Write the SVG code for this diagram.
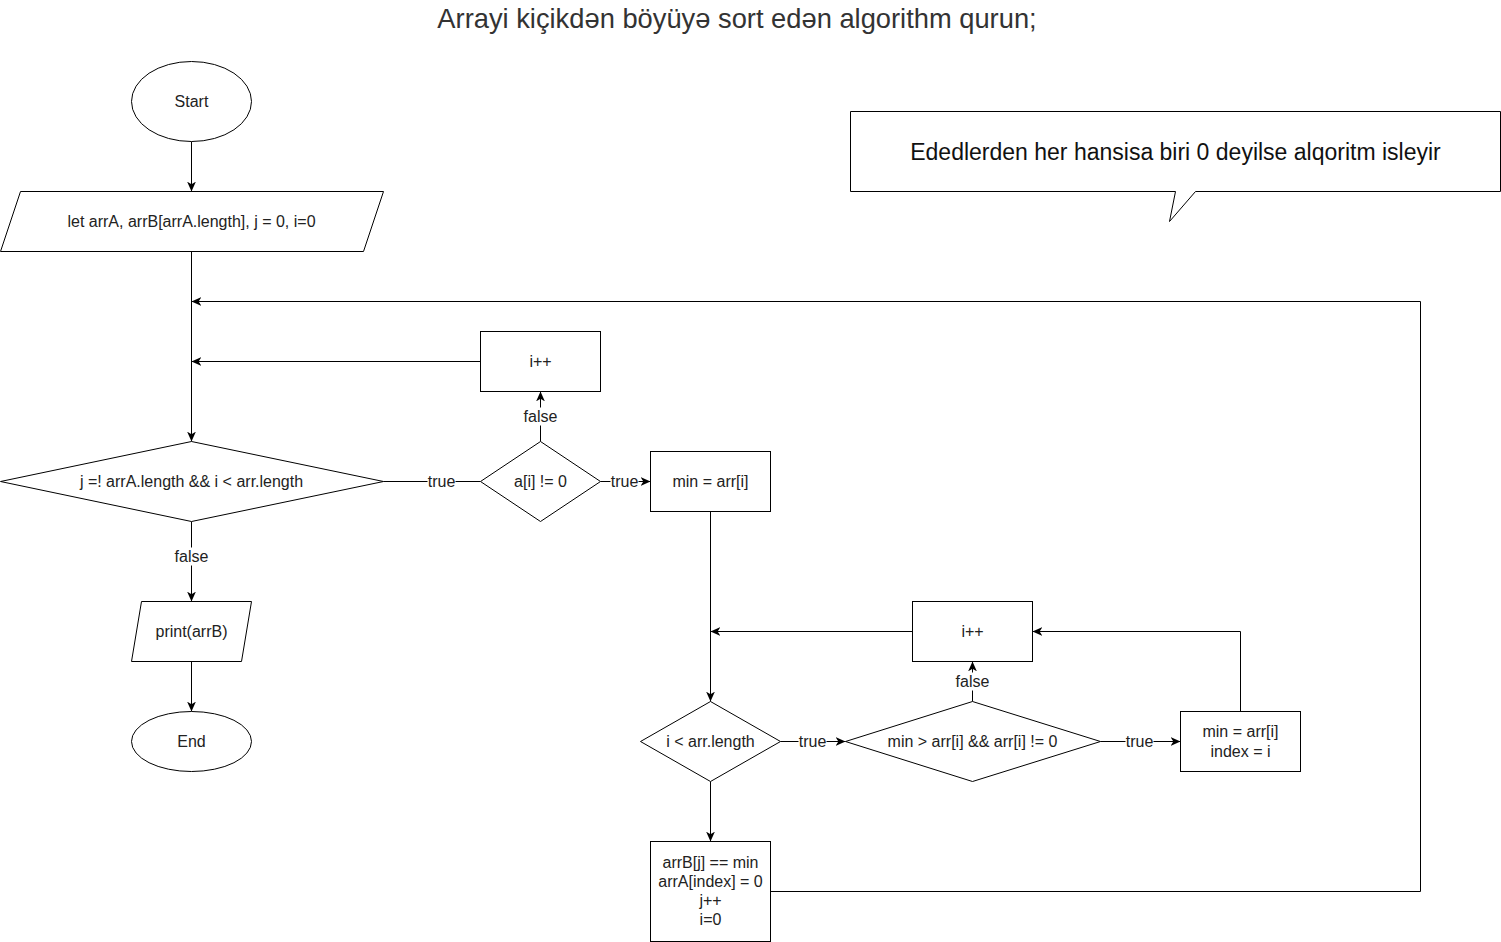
<svg xmlns="http://www.w3.org/2000/svg" width="1501" height="942" viewBox="0 0 1501 942">
<style>
.s{fill:#fff;stroke:#000;stroke-width:1}
.t{font-family:"Liberation Sans",Arial,sans-serif;font-size:16px;fill:#222;text-anchor:middle;dominant-baseline:central}
.e{fill:none;stroke:#000;stroke-width:1}
.lb{fill:#fff}
</style>
<defs>
<marker id="a" markerUnits="userSpaceOnUse" markerWidth="11" markerHeight="11" viewBox="0 0 10 10" refX="9" refY="5" orient="auto">
<path d="M0,1 L9,5 L0,9 L2.5,5 Z" fill="#000"/>
</marker>
</defs>
<rect width="1501" height="942" fill="#fff"/>
<text x="737" y="18" class="t" style="font-size:27.3px;fill:#333">Arrayi kiçikdən böyüyə sort edən algorithm qurun;</text>
<g transform="translate(0.5,0.5)">
<g id="connectors">
<path class="e" d="M191,141 L191,191" marker-end="url(#a)"/>
<path class="e" d="M191,251 L191,441" marker-end="url(#a)"/>
<path class="e" d="M770,891 L1420,891 L1420,301 L191,301" marker-end="url(#a)"/>
<path class="e" d="M480,361 L191,361" marker-end="url(#a)"/>
<path class="e" d="M383,481 L480,481"/>
<path class="e" d="M540,441 L540,391" marker-end="url(#a)"/>
<path class="e" d="M600,481 L650,481" marker-end="url(#a)"/>
<path class="e" d="M710,511 L710,701" marker-end="url(#a)"/>
<path class="e" d="M912,631 L710,631" marker-end="url(#a)"/>
<path class="e" d="M191,521 L191,601" marker-end="url(#a)"/>
<path class="e" d="M191,661 L191,711" marker-end="url(#a)"/>
<path class="e" d="M780,741 L845,741" marker-end="url(#a)"/>
<path class="e" d="M972,701 L972,661" marker-end="url(#a)"/>
<path class="e" d="M1100,741 L1180,741" marker-end="url(#a)"/>
<path class="e" d="M1240,711 L1240,631 L1032,631" marker-end="url(#a)"/>
<path class="e" d="M710,781 L710,841" marker-end="url(#a)"/>
<rect class="lb" x="427" y="472" width="28" height="18"/><text class="t" x="441" y="481">true</text>
<rect class="lb" x="523" y="407" width="34" height="18"/><text class="t" x="540" y="416">false</text>
<rect class="lb" x="610" y="472" width="28" height="18"/><text class="t" x="624" y="481">true</text>
<rect class="lb" x="174" y="547" width="34" height="18"/><text class="t" x="191" y="556">false</text>
<rect class="lb" x="798" y="732" width="28" height="18"/><text class="t" x="812" y="741">true</text>
<rect class="lb" x="955" y="672" width="34" height="18"/><text class="t" x="972" y="681">false</text>
<rect class="lb" x="1125" y="732" width="28" height="18"/><text class="t" x="1139" y="741">true</text>
</g>
<g id="start"><ellipse class="s" cx="191" cy="101" rx="60" ry="40"/><text class="t" x="191" y="101">Start</text></g>
<g id="input"><polygon class="s" points="20,191 383,191 363,251 0,251"/><text class="t" x="191" y="221">let arrA, arrB[arrA.length], j = 0, i=0</text></g>
<g id="cond-main"><polygon class="s" points="0,481 191,441 383,481 191,521"/><text class="t" x="191" y="481">j =! arrA.length &amp;&amp; i &lt; arr.length</text></g>
<g id="print"><polygon class="s" points="141,601 251,601 241,661 131,661"/><text class="t" x="191" y="631">print(arrB)</text></g>
<g id="end"><ellipse class="s" cx="191" cy="741" rx="60" ry="30"/><text class="t" x="191" y="741">End</text></g>
<g id="inc1"><rect class="s" x="480" y="331" width="120" height="60"/><text class="t" x="540" y="361">i++</text></g>
<g id="cond-nonzero"><polygon class="s" points="480,481 540,441 600,481 540,521"/><text class="t" x="540" y="481">a[i] != 0</text></g>
<g id="min-init"><rect class="s" x="650" y="451" width="120" height="60"/><text class="t" x="710" y="481">min = arr[i]</text></g>
<g id="cond-len"><polygon class="s" points="640,741 710,701 780,741 710,781"/><text class="t" x="710" y="741">i &lt; arr.length</text></g>
<g id="inc2"><rect class="s" x="912" y="601" width="120" height="60"/><text class="t" x="972" y="631">i++</text></g>
<g id="cond-min"><polygon class="s" points="845,741 972,701 1100,741 972,781"/><text class="t" x="972" y="741">min &gt; arr[i] &amp;&amp; arr[i] != 0</text></g>
<g id="set-min"><rect class="s" x="1180" y="711" width="120" height="60"/><text class="t" x="1240" y="731">min = arr[i]</text><text class="t" x="1240" y="751">index = i</text></g>
<g id="store"><rect class="s" x="650" y="841" width="120" height="100"/><text class="t" x="710" y="862">arrB[j] == min</text><text class="t" x="710" y="881">arrA[index] = 0</text><text class="t" x="710" y="900">j++</text><text class="t" x="710" y="919">i=0</text></g>
<g id="note"><path class="s" d="M850,111 L1500,111 L1500,191 L1195,191 L1169,221 L1175,191 L850,191 Z"/><text class="t" x="1175" y="151" style="font-size:23px;fill:#111">Ededlerden her hansisa biri 0 deyilse alqoritm isleyir</text></g>
</g>
</svg>
